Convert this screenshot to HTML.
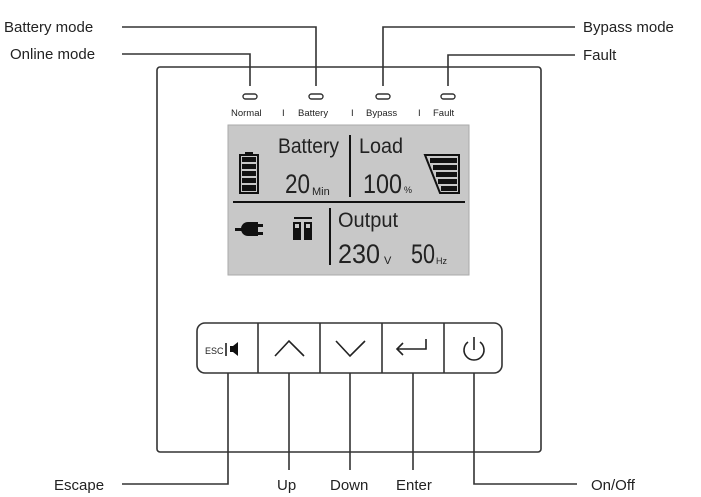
<!DOCTYPE html>
<html><head><meta charset="utf-8"><style>
body{margin:0;background:#fff}
svg{display:block}
text{font-family:"Liberation Sans",Arial,sans-serif;fill:#222}
</style></head><body>
<svg width="701" height="497" viewBox="0 0 701 497">
<g stroke="#333" stroke-width="1.6" fill="none">
<rect x="157" y="67" width="384" height="385" rx="3"/>
<polyline points="122,27 316,27 316,86"/>
<polyline points="122,54 250,54 250,86"/>
<polyline points="575,27 383,27 383,86"/>
<polyline points="575,55 448,55 448,86"/>
<polyline points="228,366 228,484 122,484"/>
<line x1="289" y1="366" x2="289" y2="470"/>
<line x1="350" y1="366" x2="350" y2="470"/>
<line x1="413" y1="366" x2="413" y2="470"/>
<polyline points="474,366 474,484 577,484"/>
</g>
<g fill="#fff" stroke="#333" stroke-width="1.4">
<rect x="243" y="94" width="14" height="5" rx="2.5"/>
<rect x="309" y="94" width="14" height="5" rx="2.5"/>
<rect x="376" y="94" width="14" height="5" rx="2.5"/>
<rect x="441" y="94" width="14" height="5" rx="2.5"/>
</g>
<g font-size="9.5">
<text x="231" y="116">Normal</text><text x="282" y="116">I</text>
<text x="298" y="116">Battery</text><text x="351" y="116">I</text>
<text x="366" y="116">Bypass</text><text x="418" y="116">I</text>
<text x="433" y="116">Fault</text>
</g>
<rect x="228" y="125" width="241" height="150" fill="#c8c8c8" stroke="#aaa"/>
<g stroke="#111" stroke-width="2">
<line x1="233" y1="202" x2="465" y2="202"/>
<line x1="350" y1="135" x2="350" y2="197"/>
<line x1="330" y1="208" x2="330" y2="265"/>
</g>
<g font-size="21">
<text x="278" y="153" textLength="61" lengthAdjust="spacingAndGlyphs">Battery</text>
<text x="359" y="153" textLength="44" lengthAdjust="spacingAndGlyphs">Load</text>
<text x="338" y="227" textLength="60" lengthAdjust="spacingAndGlyphs">Output</text>
</g>
<g font-size="27">
<text x="285" y="193" textLength="25" lengthAdjust="spacingAndGlyphs">20</text>
<text x="363" y="193" textLength="39" lengthAdjust="spacingAndGlyphs">100</text>
<text x="338" y="263" textLength="42" lengthAdjust="spacingAndGlyphs">230</text>
<text x="411" y="263" textLength="24" lengthAdjust="spacingAndGlyphs">50</text>
</g>
<g font-size="11">
<text x="312" y="195">Min</text>
<text x="404" y="193" font-size="9">%</text>
<text x="384" y="264">V</text>
<text x="436" y="264" font-size="9">Hz</text>
</g>
<g>
<rect x="240" y="155" width="18" height="38" fill="none" stroke="#111" stroke-width="2"/>
<rect x="245" y="152" width="8" height="3" fill="#111"/>
<g fill="#111"><rect x="242" y="157" width="14" height="5"/><rect x="242" y="164" width="14" height="5"/><rect x="242" y="171" width="14" height="5"/><rect x="242" y="178" width="14" height="5"/><rect x="242" y="185" width="14" height="6"/></g>
</g>
<polygon points="425,155 459,155 459,193 440,193" fill="none" stroke="#111" stroke-width="2"/>
<g fill="#111"><rect x="430" y="158" width="27" height="5"/><rect x="433" y="165" width="24" height="5"/><rect x="436" y="172" width="21" height="5"/><rect x="438" y="179" width="19" height="5"/><rect x="441" y="186" width="16" height="5"/></g>
<g fill="#111">
<rect x="235" y="228" width="14" height="3"/>
<path d="M248 222 h10 v14 h-10 a7 7 0 0 1 0 -14z"/>
<rect x="257" y="224" width="6" height="3"/><rect x="257" y="232" width="6" height="3"/>
</g>
<g fill="#111">
<rect x="294" y="217" width="18" height="2"/>
<rect x="293" y="222" width="8" height="18"/><rect x="304" y="222" width="8" height="18"/>
</g>
<g fill="#c8c8c8"><rect x="295" y="224" width="4" height="4"/><rect x="306" y="224" width="4" height="4"/></g>
<rect x="197" y="323" width="305" height="50" rx="8" fill="#fff" stroke="#333" stroke-width="1.6"/>
<g stroke="#333" stroke-width="1.6">
<line x1="258" y1="323" x2="258" y2="373"/><line x1="320" y1="323" x2="320" y2="373"/>
<line x1="382" y1="323" x2="382" y2="373"/><line x1="444" y1="323" x2="444" y2="373"/>
</g>
<text x="205" y="354" font-size="9">ESC</text>
<line x1="226" y1="343" x2="226" y2="356" stroke="#111" stroke-width="1.5"/>
<path d="M230 346 h3 l5 -4 v14 l-5 -4 h-3z" fill="#111"/>
<g fill="none" stroke="#222" stroke-width="1.6">
<polyline points="275,356 289,341 304,356"/>
<polyline points="336,341 350,356 365,341"/>
<polyline points="426,339 426,349 397,349"/>
<polyline points="403,343 397,349 403,355"/>
<path d="M468 342 a10 10 0 1 0 12 0"/>
<line x1="474" y1="337" x2="474" y2="350"/>
</g>
<g font-size="15">
<text x="4" y="32">Battery mode</text>
<text x="10" y="59">Online mode</text>
<text x="583" y="32">Bypass mode</text>
<text x="583" y="60">Fault</text>
<text x="54" y="490">Escape</text>
<text x="277" y="490">Up</text>
<text x="330" y="490">Down</text>
<text x="396" y="490">Enter</text>
<text x="591" y="490">On/Off</text>
</g>
</svg>
</body></html>
